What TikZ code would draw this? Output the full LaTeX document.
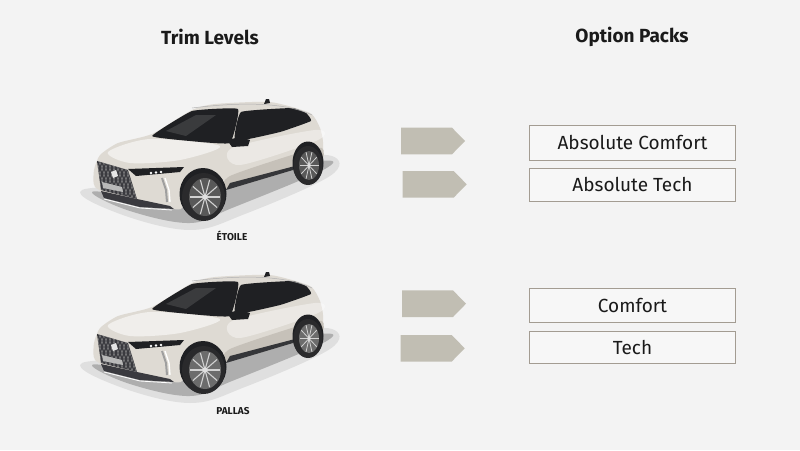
\documentclass[tikz,border=0pt]{standalone}
\usepackage{fontspec}
\setmainfont{Fira Sans}
\definecolor{bg}{HTML}{F3F3F3}
\definecolor{arrowc}{HTML}{C1BEB3}
\definecolor{boxline}{HTML}{A39C92}
\definecolor{boxfill}{HTML}{F7F7F7}
\definecolor{txt}{HTML}{1A1A1A}
\definecolor{carbody}{HTML}{DEDAD3}
\definecolor{carshade}{HTML}{C6C1B9}
\definecolor{glass}{HTML}{1F2023}
\definecolor{grillec}{HTML}{3A3A3F}
\definecolor{tire}{HTML}{2A2A2C}
\tikzset{
  heading/.style={font=\fontsize{19}{21}\selectfont\bfseries, text=txt},
  packbox/.style={draw=boxline, line width=1pt, fill=boxfill, minimum width=206pt, inner sep=0pt, font=\fontsize{19}{22}\selectfont, text=txt},
  trimlabel/.style={font=\fontsize{10}{11}\selectfont\bfseries, text=txt},
  packarrow/.pic={\fill[arrowc] (0,-13.3) -- (51,-13.3) -- (64,0) -- (51,13.3) -- (0,13.3) -- cycle;},
  car/.pic={
    % ground shadow
    \fill[black, opacity=0.08] plot[smooth cycle, tension=0.6] coordinates {(2,100) (40,124) (110,140) (165,124) (250,86) (252,66) (200,70) (100,94)};
    \fill[black, opacity=0.22] plot[smooth cycle, tension=0.6] coordinates {(12,102) (50,121) (110,133) (152,118) (243,80) (241,71) (150,90) (60,104)};
    % body
    \fill[carbody] plot[smooth cycle, tension=0.35] coordinates {(15,97) (40,110) (75,117) (101,119) (110,105) (146,99) (212,80) (241,72) (243,52) (240,38) (230,23) (190,12) (135,14) (112,20) (72,44) (38,53) (20,65) (14,80)};
    \fill[carshade] plot[smooth cycle, tension=0.4] coordinates {(146,99) (150,86) (215,64) (242,58) (241,72) (212,80)};
    \fill[white, opacity=0.55] plot[smooth cycle, tension=0.5] coordinates {(28,62) (70,49) (140,56) (100,70) (50,73)};
    \fill[white, opacity=0.4] plot[smooth cycle, tension=0.5] coordinates {(152,58) (235,40) (238,50) (160,75)};
    \fill[glass!90] (146,100) -- (213,80) -- (215,76) -- (150,93) -- cycle;
    % glass
    \fill[glass] plot[smooth cycle, tension=0.2] coordinates {(72,46) (112,21) (158,19) (150,53) (110,51)};
    \fill[white, opacity=0.12] (86,41) -- (116,25) -- (136,25) -- (106,46) -- cycle;
    \fill[glass] plot[smooth cycle, tension=0.2] coordinates {(161,22) (212,18) (226,23) (231,31) (200,42) (155,51)};
    \draw[gray!60, line width=0.5] (112,18) .. controls (160,12) and (205,12) .. (232,25);
    \fill[glass] (184,14) -- (186,9) -- (189,9) -- (190,13) -- cycle;
    \fill[glass] (147,50) -- (160,47) -- (170,50) -- (168,56) -- (152,57) -- cycle;
    % grille
    \begin{scope}
      \clip (17,71) -- (48,80) -- (57,109) -- (21,100) -- cycle;
      \fill[grillec] (10,60) rectangle (70,120);
      \foreach \i in {-20,-16,...,60} {
        \draw[gray!65, line width=0.3] (\i,60) -- ++(20,60);
        \draw[gray!65, line width=0.3] ({\i+20},60) -- ++(-20,60);
      }
    \end{scope}
    \fill[gray!20] (31,82) -- (36,80) -- (38,86) -- (33,88) -- cycle;
    \fill[gray!55] (22,92) -- (42,97) -- (43,102) -- (23,98) -- cycle;
    % headlight and lights
    \fill[glass] (48,79) -- (104,77) -- (100,82) -- (56,86) -- cycle;
    \fill[white] (71,83) circle (1.3) (76,82.5) circle (1.3) (81,82) circle (1.3);
    \draw[gray!75, line width=2] (82,88) -- (86,100) -- (87,112);
    \draw[white, line width=1.4] (85,88) -- (89,100) -- (90,112);
    % lower front
    \fill[grillec] (21,101) -- (57,109) -- (90,116) -- (94,119) -- (60,117) -- (24,108) -- cycle;
    \draw[white, line width=0.8] (24,109) -- (60,118) -- (92,120);
    % front wheel
    \fill[glass] (123,104) ellipse [x radius=23.5, y radius=26];
    \fill[tire] (123.5,107) ellipse [x radius=21.5, y radius=24];
    \fill[#1] (125,107) ellipse [x radius=16, y radius=19];
    \foreach \a in {0,36,...,324} {
      \draw[gray!35, line width=1.1] (125,107) -- ({125+15*cos(\a)},{107+18*sin(\a)});
    }
    \fill[gray!25] (125,107) circle (2.5);
    % rear wheel
    \fill[glass] (228,73) ellipse [x radius=15.5, y radius=21.5];
    \fill[tire] (228,75.5) ellipse [x radius=14.5, y radius=19.5];
    \fill[#1] (229,75.5) ellipse [x radius=10, y radius=14.5];
    \foreach \a in {0,36,...,324} {
      \draw[gray!35, line width=0.8] (229,75.5) -- ({229+9.5*cos(\a)},{75.5+14*sin(\a)});
    }
    \fill[gray!25] (229,75.5) circle (1.8);
  }
}
\begin{document}
\begin{tikzpicture}[x=1pt,y=-1pt]
  \fill[bg] (0,0) rectangle (800,450);
  \useasboundingbox (0,0) rectangle (800,450);

  \node[heading] (trimhead) at (210,37) {Trim Levels};
  \node[heading] (packhead) at (632,37) {Option Packs};

  \pic (car1) at (80,90) {car={gray!70!black}};
  \pic (car2) at (80,263) {car={gray!85!black}};
  \node[trimlabel] (etoile) at (232,235.5) {ÉTOILE};
  \node[trimlabel] (pallas) at (233,411.5) {PALLAS};

  \pic (arr1) at (401,141) {packarrow};
  \pic (arr2) at (402.7,184.3) {packarrow};
  \pic (arr3) at (402,303.7) {packarrow};
  \pic (arr4) at (400.7,348.3) {packarrow};

  \node[packbox, minimum height=35pt] (abscomfort) at (632.5,142.5) {Absolute Comfort};
  \node[packbox, minimum height=33pt] (abstech) at (632.5,184.7) {Absolute Tech};
  \node[packbox, minimum height=34pt] (comfort) at (632.5,305.3) {Comfort};
  \node[packbox, minimum height=32pt] (tech) at (632.5,347.2) {Tech};
\end{tikzpicture}
\end{document}
